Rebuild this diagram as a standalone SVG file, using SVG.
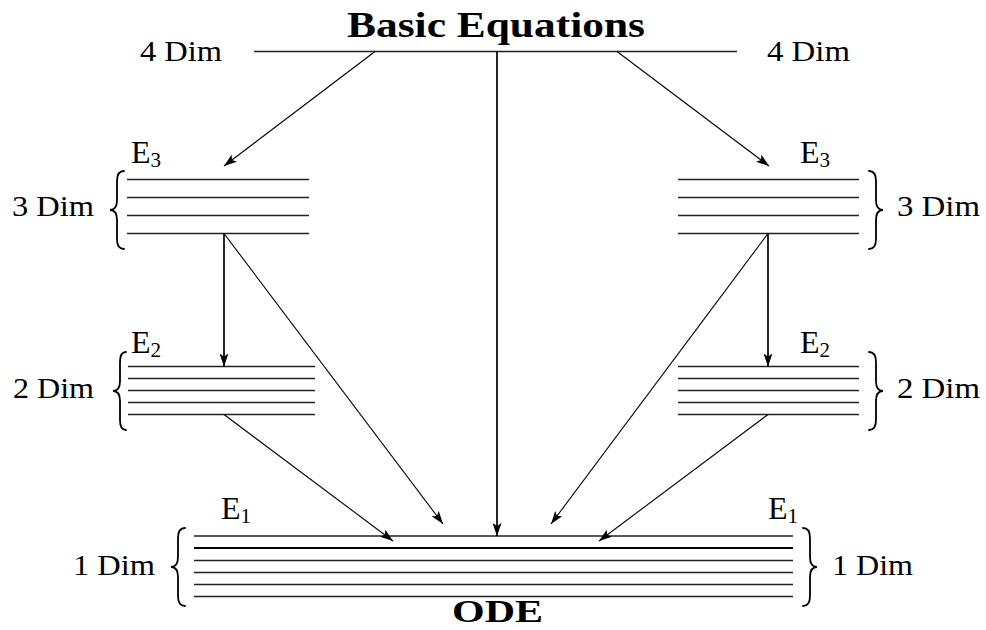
<svg xmlns="http://www.w3.org/2000/svg" width="986" height="630" viewBox="0 0 986 630" font-family="'Liberation Serif','DejaVu Serif',serif">
<defs>
<style>
text{font-family:"Liberation Serif","DejaVu Serif","Times New Roman",serif;fill:#000}
.dim{font-size:30px}
.title{font-size:36px;font-weight:bold}
.e{font-size:32px}
.sub{font-size:21px}
.lvl{stroke:#222;stroke-width:1.3;fill:none}
.thick{stroke:#000;stroke-width:2.2}
.brace{stroke:#000;stroke-width:1.8;fill:none;stroke-linecap:round}
.conn{stroke:#000;stroke-width:1.1;fill:none}
.vconn{stroke:#000;stroke-width:1.7;fill:none}
</style>
<marker id="ah" viewBox="0 0 13 9" refX="13" refY="4.5" markerWidth="13" markerHeight="9" markerUnits="userSpaceOnUse" orient="auto">
<path d="M0,0 L13,4.5 L0,9 L3,4.5 z" fill="#000"/>
</marker>
</defs>
<rect width="986" height="630" fill="#fff"/>

<g id="basic">
<text class="title" x="347" y="37" textLength="298" lengthAdjust="spacingAndGlyphs">Basic Equations</text>
<line class="lvl" x1="254" y1="51.5" x2="737" y2="51.5"/>
<text class="dim" x="140" y="61" textLength="82" lengthAdjust="spacingAndGlyphs">4 Dim</text>
<text class="dim" x="767" y="61" textLength="83" lengthAdjust="spacingAndGlyphs">4 Dim</text>
</g>

<g id="e3-left">
<text class="e" x="131" y="163">E<tspan class="sub" dy="4">3</tspan></text>
<line class="lvl" x1="127" y1="179.5" x2="309" y2="179.5"/>
<line class="lvl" x1="127" y1="197.5" x2="309" y2="197.5"/>
<line class="lvl" x1="127" y1="215.5" x2="309" y2="215.5"/>
<line class="lvl" x1="127" y1="233.5" x2="309" y2="233.5"/>
<path class="brace" d="M124,171 Q117,171 117,181 L117,200 Q117,210 110,210 Q117,210 117,220 L117,239 Q117,249 124,249"/>
<text class="dim" x="12" y="216" textLength="82" lengthAdjust="spacingAndGlyphs">3 Dim</text>
</g>

<g id="e3-right">
<text class="e" x="800" y="163">E<tspan class="sub" dy="4">3</tspan></text>
<line class="lvl" x1="678" y1="179.5" x2="859" y2="179.5"/>
<line class="lvl" x1="678" y1="197.5" x2="859" y2="197.5"/>
<line class="lvl" x1="678" y1="215.5" x2="859" y2="215.5"/>
<line class="lvl" x1="678" y1="233.5" x2="859" y2="233.5"/>
<path class="brace" d="M869,171 Q876,171 876,181 L876,200 Q876,210 883,210 Q876,210 876,220 L876,239 Q876,249 869,249"/>
<text class="dim" x="897" y="216" textLength="83" lengthAdjust="spacingAndGlyphs">3 Dim</text>
</g>

<g id="e2-left">
<text class="e" x="131" y="353">E<tspan class="sub" dy="4">2</tspan></text>
<line class="lvl" x1="128" y1="366.5" x2="315" y2="366.5"/>
<line class="lvl" x1="128" y1="378.5" x2="315" y2="378.5"/>
<line class="lvl" x1="128" y1="390.5" x2="315" y2="390.5"/>
<line class="lvl" x1="128" y1="402.5" x2="315" y2="402.5"/>
<line class="lvl" x1="128" y1="414.5" x2="315" y2="414.5"/>
<path class="brace" d="M126,352 Q120,352 120,362 L120,381 Q120,391 113,391 Q120,391 120,401 L120,420 Q120,430 126,430"/>
<text class="dim" x="13" y="398" textLength="81" lengthAdjust="spacingAndGlyphs">2 Dim</text>
</g>

<g id="e2-right">
<text class="e" x="800" y="353">E<tspan class="sub" dy="4">2</tspan></text>
<line class="lvl" x1="678" y1="366.5" x2="859" y2="366.5"/>
<line class="lvl" x1="678" y1="378.5" x2="859" y2="378.5"/>
<line class="lvl" x1="678" y1="390.5" x2="859" y2="390.5"/>
<line class="lvl" x1="678" y1="402.5" x2="859" y2="402.5"/>
<line class="lvl" x1="678" y1="414.5" x2="859" y2="414.5"/>
<path class="brace" d="M869,352 Q876,352 876,362 L876,381 Q876,391 883,391 Q876,391 876,401 L876,420 Q876,430 869,430"/>
<text class="dim" x="897" y="398" textLength="83" lengthAdjust="spacingAndGlyphs">2 Dim</text>
</g>

<g id="e1-ode">
<text class="e" x="221" y="519">E<tspan class="sub" dy="4">1</tspan></text>
<text class="e" x="768" y="519">E<tspan class="sub" dy="4">1</tspan></text>
<line class="lvl" x1="194" y1="536" x2="793" y2="536"/>
<line class="thick" x1="194" y1="548" x2="793" y2="548"/>
<line class="lvl" x1="194" y1="560.5" x2="793" y2="560.5"/>
<line class="lvl" x1="194" y1="572.5" x2="793" y2="572.5"/>
<line class="lvl" x1="194" y1="584.5" x2="793" y2="584.5"/>
<line class="lvl" x1="194" y1="596.5" x2="793" y2="596.5"/>
<path class="brace" d="M185,528 Q178,528 178,538 L178,557 Q178,567 171,567 Q178,567 178,577 L178,596 Q178,606 185,606"/>
<path class="brace" d="M803,528 Q810,528 810,538 L810,557 Q810,567 817,567 Q810,567 810,577 L810,596 Q810,606 803,606"/>
<text class="dim" x="73" y="575" textLength="82" lengthAdjust="spacingAndGlyphs">1 Dim</text>
<text class="dim" x="832" y="575" textLength="81" lengthAdjust="spacingAndGlyphs">1 Dim</text>
<text class="title" x="452" y="622" style="font-size:32px" textLength="91" lengthAdjust="spacingAndGlyphs">ODE</text>
</g>

<g id="connectors">
<line class="conn" x1="375" y1="51.5" x2="224" y2="166" marker-end="url(#ah)"/>
<line class="conn" x1="617" y1="51.5" x2="769" y2="166" marker-end="url(#ah)"/>
<line class="vconn" x1="497" y1="51.5" x2="497" y2="536" marker-end="url(#ah)"/>
<line class="vconn" x1="224" y1="233.5" x2="224" y2="366.5" marker-end="url(#ah)"/>
<line class="vconn" x1="768" y1="233.5" x2="768" y2="366.5" marker-end="url(#ah)"/>
<line class="conn" x1="224" y1="233.5" x2="443" y2="524" marker-end="url(#ah)"/>
<line class="conn" x1="768" y1="233.5" x2="551" y2="524" marker-end="url(#ah)"/>
<line class="conn" x1="224" y1="414.5" x2="393" y2="541" marker-end="url(#ah)"/>
<line class="conn" x1="768" y1="414.5" x2="599" y2="541" marker-end="url(#ah)"/>
</g>
</svg>
